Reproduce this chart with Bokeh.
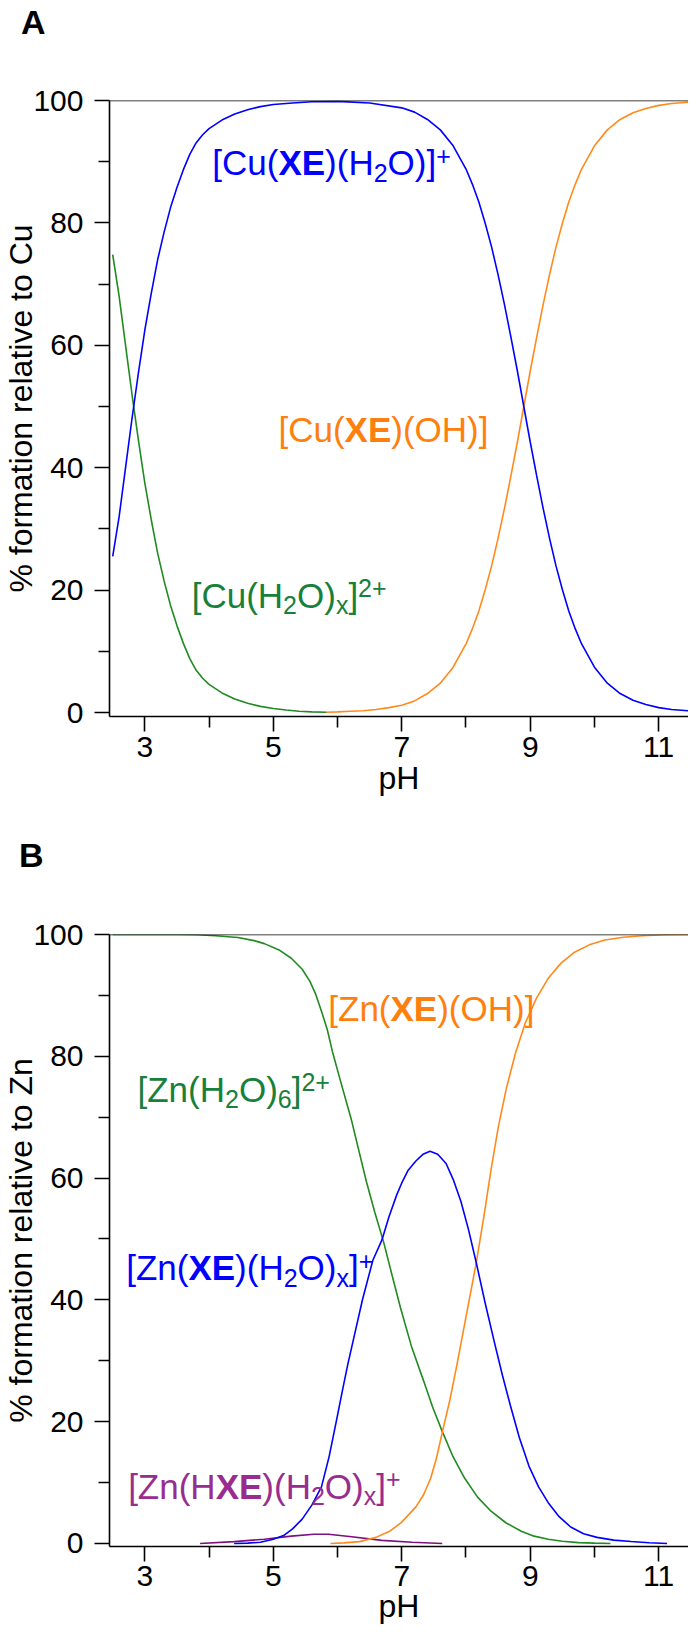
from bokeh.plotting import figure
from bokeh.models import Range1d, FixedTicker, Label, Span, Div
from bokeh.layouts import column
from bokeh.embed import file_html
from bokeh.resources import INLINE

# ---------------- data ----------------
# Panel A: Cu speciation
ph_cu_aq = [2.5, 2.6, 2.7, 2.8, 2.9, 3.0, 3.1, 3.2, 3.3, 3.4, 3.5, 3.6, 3.7, 3.8, 3.9, 4.0,
            4.2, 4.4, 4.6, 4.8, 5.0, 5.2, 5.4, 5.6, 5.83]
pct_cu_aq = [74.8, 68, 60, 52, 44.5, 37.5, 31.5, 26, 21.5, 17.5, 14.2, 11.3, 8.8, 6.9, 5.6, 4.6,
             3.2, 2.2, 1.5, 1.0, 0.65, 0.4, 0.2, 0.1, 0.05]

ph_cu_xe = [2.5, 2.6, 2.7, 2.8, 2.9, 3.0, 3.1, 3.2, 3.3, 3.4, 3.5, 3.6, 3.7, 3.8, 3.9, 4.0,
            4.2, 4.4, 4.6, 4.8, 5.0, 5.3, 5.6, 6.0, 6.5, 7.0, 7.2, 7.4, 7.6, 7.8, 8.0, 8.1,
            8.2, 8.3, 8.4, 8.5, 8.6, 8.7, 8.8, 8.9, 9.0, 9.1, 9.2, 9.3, 9.4, 9.5, 9.6, 9.7,
            9.8, 10.0, 10.2, 10.4, 10.6, 10.8, 11.0, 11.2, 11.5, 12.0]
pct_cu_xe = [25.5, 32, 40, 48, 55.5, 62.5, 68.5, 74, 78.5, 82.5, 85.8, 88.7, 91.2, 93.1, 94.4, 95.4,
             96.8, 97.8, 98.5, 99.0, 99.35, 99.6, 99.8, 99.85, 99.6, 98.8, 98.1, 96.9, 95.2, 92.6, 88.8, 86.3,
             83.4, 79.9, 76, 71.5, 66.6, 61.3, 55.8, 50, 44.2, 38.7, 33.4, 28.5, 24, 20.1, 16.6, 13.7,
             11.2, 7.4, 4.8, 3.1, 2.0, 1.3, 0.8, 0.5, 0.25, 0.08]

ph_cu_oh = [5.83, 6.0, 6.2, 6.4, 6.6, 6.8, 7.0, 7.2, 7.4, 7.6, 7.8, 8.0, 8.1, 8.2, 8.3, 8.4,
            8.5, 8.6, 8.7, 8.8, 8.9, 9.0, 9.1, 9.2, 9.3, 9.4, 9.5, 9.6, 9.7, 9.8, 10.0, 10.2,
            10.4, 10.6, 10.8, 11.0, 11.2, 11.5, 12.0]
pct_cu_oh = [0.05, 0.1, 0.2, 0.3, 0.5, 0.8, 1.2, 1.9, 3.1, 4.8, 7.4, 11.2, 13.7, 16.6, 20.1, 24,
             28.5, 33.4, 38.7, 44.2, 50, 55.8, 61.3, 66.6, 71.5, 76, 79.9, 83.4, 86.3, 88.8, 92.6, 95.2,
             96.9, 98.0, 98.7, 99.2, 99.5, 99.75, 99.92]

# Panel B: Zn speciation
ph_zn_aq = [2.5, 3.0, 3.5, 3.81, 4.1, 4.45, 4.7, 4.86, 5.1, 5.28, 5.45, 5.57, 5.66, 5.75, 5.84,
            5.92, 6.05, 6.22, 6.33, 6.45, 6.58, 6.72, 6.85, 6.98, 7.15, 7.34, 7.48, 7.63, 7.8,
            7.98, 8.18, 8.39, 8.62, 8.86, 9.06, 9.28, 9.5, 9.75, 10.0, 10.25]
pct_zn_aq = [100, 100, 100, 99.95, 99.8, 99.5, 99.0, 98.5, 97.4, 96.1, 94.3, 92.3, 90.2, 87.4, 84.4,
             80.8, 75.8, 69.4, 64.6, 59.4, 54.4, 49.4, 44.0, 38.7, 32.4, 26.7, 22.4, 18.4, 14.2,
             10.7, 7.6, 5.3, 3.4, 2.0, 1.2, 0.7, 0.35, 0.13, 0.05, 0.0]

ph_zn_xe = [4.39, 4.6, 4.8, 5.0, 5.16, 5.3, 5.45, 5.6, 5.75, 5.87, 5.98, 6.08, 6.16, 6.28, 6.39,
            6.55, 6.69, 6.8, 6.92, 7.0, 7.1, 7.22, 7.33, 7.44, 7.56, 7.69, 7.8, 7.92, 8.04, 8.16,
            8.3, 8.45, 8.57, 8.69, 8.83, 8.98, 9.13, 9.28, 9.45, 9.63, 9.83, 10.04, 10.3, 10.57,
            10.85, 11.13]
pct_zn_xe = [0.0, 0.05, 0.2, 0.7, 1.3, 2.4, 4.0, 6.3, 9.3, 14.3, 20, 25.3, 29.4, 35.0, 40.1,
             46.5, 49.8, 53.6, 57.2, 59.2, 61.3, 62.8, 63.9, 64.4, 63.9, 62.4, 59.8, 56.2, 51.5, 46.1,
             39.4, 32.7, 27.5, 22.7, 17.4, 12.7, 9.3, 6.7, 4.4, 2.7, 1.6, 1.0, 0.55, 0.33,
             0.12, 0.0]

ph_zn_oh = [5.89, 6.1, 6.34, 6.6, 6.81, 7.0, 7.22, 7.34, 7.45, 7.54, 7.63, 7.75, 7.86, 8.0, 8.16,
            8.28, 8.39, 8.5, 8.63, 8.77, 8.92, 9.1, 9.28, 9.48, 9.69, 9.92, 10.16, 10.45, 10.75,
            11.1, 11.5, 12.0]
pct_zn_oh = [0.0, 0.1, 0.3, 1.0, 2.0, 3.5, 6.0, 8.0, 10.7, 14.0, 18.2, 23.6, 29.4, 37.2, 46.1,
             53.8, 61.4, 68.2, 74.8, 80.5, 85.4, 89.6, 92.8, 95.3, 97.1, 98.3, 99.1, 99.55, 99.8,
             99.95, 100, 100]

ph_zn_hxe = [3.86, 4.39, 4.86, 5.28, 5.63, 5.86, 6.22, 6.69, 7.16, 7.63]
pct_zn_hxe = [0.0, 0.3, 0.7, 1.2, 1.5, 1.5, 1.1, 0.5, 0.2, 0.0]

x_major = [3, 5, 7, 9, 11]
x_minor = [4, 6, 8, 10]
y_major = [0, 20, 40, 60, 80, 100]
y_minor = [10, 30, 50, 70, 90]

# ---------------- styling ----------------
FONT = "Liberation Sans"
BLUE = "#0000ff"
ORANGE_LINE = "#ff8a1c"
ORANGE_TXT = "#ff7f0e"
GREEN_LINE = "#218a21"
GREEN_TXT = "#17803a"
PURPLE_LINE = "#7d0f80"
PURPLE_TXT = "#982d8f"

W_REG = {'[': 278, ']': 278, '(': 333, ')': 333, 'C': 722, 'u': 556, 'H': 722, 'O': 778,
         'Z': 611, 'n': 556, 'x': 500, '2': 556, '6': 556, '+': 584, 'X': 667, 'E': 667}
W_BOLD = {'X': 667, 'E': 667, 'H': 722}

FS = 35
SUBFS = 25


def add_formula(p, x, y, segments, color):
    off = 0.0
    for txt, kind in segments:
        bold = kind == "b"
        size = FS if kind in ("n", "b") else SUBFS
        dy = {"n": 0, "b": 0, "sub": -10, "sup": 7}[kind]
        p.add_layout(Label(x=x, y=y, x_offset=off, y_offset=dy, text=txt,
                           text_font=FONT, text_font_size=f"{size}px",
                           text_font_style="bold" if bold else "normal",
                           text_color=color, text_baseline="alphabetic", text_align="left"))
        table = W_BOLD if bold else W_REG
        off += sum(table.get(c, 556) for c in txt) * size / 1000.0


def make_panel(ylabel, height, top_border, bottom_border, y_start, tick_standoff, xlab_standoff):
    p = figure(width=688, height=height, x_range=Range1d(2.45, 11.464),
               y_range=Range1d(y_start, 100), output_backend="svg", toolbar_location=None,
               min_border_left=103, min_border_right=0, min_border_top=top_border,
               min_border_bottom=bottom_border, outline_line_color=None,
               background_fill_color="white", border_fill_color="white")
    p.grid.visible = False
    for ax in (p.xaxis[0], p.yaxis[0]):
        ax.axis_line_color = "black"
        ax.axis_line_width = 1.6
        ax.major_tick_line_color = "black"
        ax.minor_tick_line_color = "black"
        ax.major_tick_line_width = 1.6
        ax.minor_tick_line_width = 1.6
        ax.major_tick_in = 0
        ax.major_tick_out = 15
        ax.minor_tick_in = 0
        ax.minor_tick_out = 11
        ax.major_label_text_font = FONT
        ax.major_label_text_font_size = "30px"
        ax.major_label_text_color = "black"
        ax.axis_label_text_font = FONT
        ax.axis_label_text_font_size = "32px"
        ax.axis_label_text_font_style = "normal"
        ax.axis_label_text_color = "black"
    p.xaxis.ticker = FixedTicker(ticks=x_major, minor_ticks=x_minor)
    p.yaxis.ticker = FixedTicker(ticks=y_major, minor_ticks=y_minor)
    p.xaxis.axis_label = "pH"
    p.yaxis.axis_label = ylabel
    p.xaxis.major_label_standoff = tick_standoff
    p.xaxis.axis_label_standoff = xlab_standoff
    p.yaxis.major_label_standoff = 11
    p.yaxis.axis_label_standoff = -9
    p.add_layout(Span(location=100, dimension="width", line_color="black", line_width=1.6))
    return p


def letter_div(letter, left, top):
    html = (f'<div style="position:absolute; left:{left}px; top:{top}px; '
            f'font-family:\'Liberation Sans\'; font-weight:bold; font-size:34px; '
            f'line-height:34px; color:black;">{letter}</div>')
    return Div(text=html, width=688, height=60, margin=0)


# ---------------- panel A ----------------
div_a = letter_div("A", 21, 5)
pa = make_panel("% formation relative to Cu", 770, 40, 114, -0.65, 5, 0)
pa.line(ph_cu_aq, pct_cu_aq, line_color=GREEN_LINE, line_width=1.6)
pa.line(ph_cu_oh, pct_cu_oh, line_color=ORANGE_LINE, line_width=1.6)
pa.line(ph_cu_xe, pct_cu_xe, line_color=BLUE, line_width=1.6)

add_formula(pa, 4.05, 89.8, [("[Cu(", "n"), ("XE", "b"), (")(H", "n"), ("2", "sub"),
                             ("O)]", "n"), ("+", "sup")], BLUE)
add_formula(pa, 5.08, 46.3, [("[Cu(", "n"), ("XE", "b"), (")(OH)]", "n")], ORANGE_TXT)
add_formula(pa, 3.73, 19.2, [("[Cu(H", "n"), ("2", "sub"), ("O)", "n"), ("x", "sub"),
                             ("]", "n"), ("2+", "sup")], GREEN_TXT)

# ---------------- panel B ----------------
div_b = letter_div("B", 19, 8)
pb = make_panel("% formation relative to Zn", 746, 44, 90, -0.5, 4, -1)
pb.line(ph_zn_aq, pct_zn_aq, line_color=GREEN_LINE, line_width=1.6)
pb.line(ph_zn_hxe, pct_zn_hxe, line_color=PURPLE_LINE, line_width=1.6)
pb.line(ph_zn_oh, pct_zn_oh, line_color=ORANGE_LINE, line_width=1.6)
pb.line(ph_zn_xe, pct_zn_xe, line_color=BLUE, line_width=1.6)

add_formula(pb, 5.856, 87.8, [("[Zn(", "n"), ("XE", "b"), (")(OH)]", "n")], ORANGE_TXT)
add_formula(pb, 2.886, 74.6, [("[Zn(H", "n"), ("2", "sub"), ("O)", "n"), ("6", "sub"),
                              ("]", "n"), ("2+", "sup")], GREEN_TXT)
add_formula(pb, 2.71, 45.3, [("[Zn(", "n"), ("XE", "b"), (")(H", "n"), ("2", "sub"),
                             ("O)", "n"), ("x", "sub"), ("]", "n"), ("+", "sup")], BLUE)
add_formula(pb, 2.74, 9.4, [("[Zn(H", "n"), ("XE", "b"), (")(H", "n"), ("2", "sub"),
                            ("O)", "n"), ("x", "sub"), ("]", "n"), ("+", "sup")], PURPLE_TXT)

layout = column(div_a, pa, div_b, pb, spacing=0)
open("out.html", "w").write(file_html(layout, INLINE))
